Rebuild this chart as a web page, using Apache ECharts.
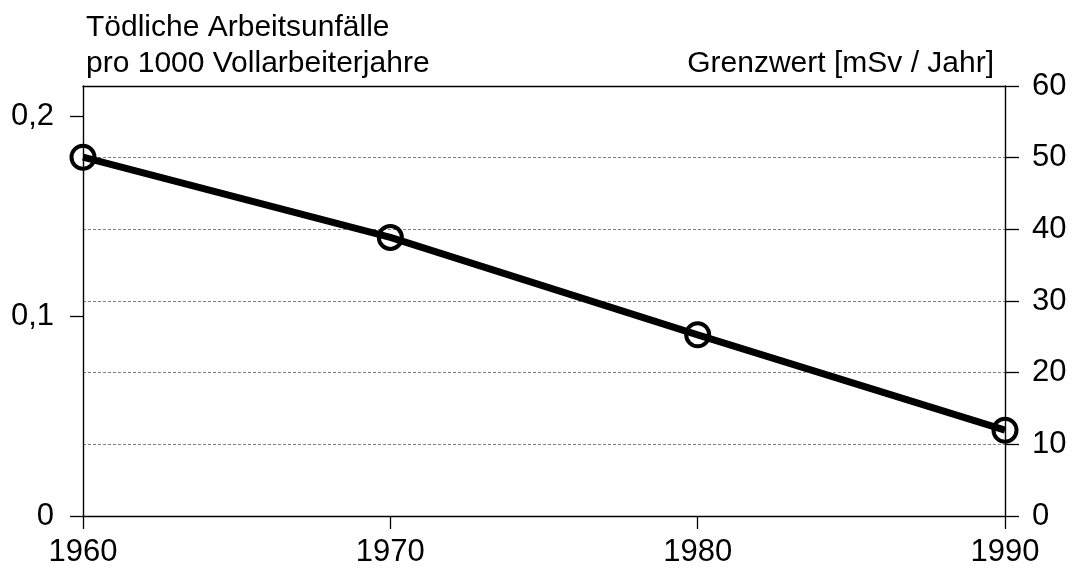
<!DOCTYPE html>
<html>
<head>
<meta charset="utf-8">
<script src="https://cdn.jsdelivr.net/npm/echarts@6/dist/echarts.min.js"></script>
<style>
  html, body { margin: 0; padding: 0; background: #fff; }
  #chart { width: 1074px; height: 568px; }
</style>
</head>
<body>
<div id="chart"></div>
<script>
// Jahre und Werte (linke Achse: tödliche Arbeitsunfälle pro 1000 Vollarbeiterjahre)
var years = [1960, 1970, 1980, 1990];
var unfaelle = [0.1794, 0.1393, 0.0906, 0.0429];
var leftTicks = [0, 0.1, 0.2];
var rightTicks = [0, 10, 20, 30, 40, 50, 60];

var font = "'Liberation Sans', Arial, sans-serif";

var points = years.map(function (y, i) { return [y, unfaelle[i]]; });

var chart = echarts.init(document.getElementById("chart"));
chart.setOption({
  animation: false,
  textStyle: { fontFamily: font },
  grid: { left: 83, right: 69, top: 86, bottom: 50 },
  xAxis: [
    {
      type: "value",
      min: 1960,
      max: 1990,
      interval: 10,
      z: 5,
      axisLine: { show: true, onZero: false, lineStyle: { color: "#000", width: 1.4 } },
      axisTick: { show: true, length: 13, lineStyle: { color: "#000", width: 1.3 } },
      axisLabel: {
        color: "#000", fontSize: 31, margin: 21, fontFamily: font,
        formatter: function (v) { return String(v); }
      },
      splitLine: { show: false }
    },
    {
      // obere Rahmenlinie
      type: "value",
      position: "top",
      min: 1960,
      max: 1990,
      z: 5,
      axisLine: { show: true, onZero: false, lineStyle: { color: "#000", width: 1.4 } },
      axisTick: { show: false },
      axisLabel: { show: false },
      splitLine: { show: false }
    }
  ],
  yAxis: [
    {
      type: "value",
      position: "left",
      min: 0,
      max: 0.215,
      z: 5,
      axisLine: { show: true, onZero: false, lineStyle: { color: "#000", width: 1.4 } },
      axisTick: { show: true, length: 13, customValues: leftTicks, lineStyle: { color: "#000", width: 1.3 } },
      axisLabel: {
        color: "#000", fontSize: 31, margin: 29, fontFamily: font,
        customValues: leftTicks,
        formatter: function (v) { return String(v).replace(".", ","); }
      },
      splitLine: { show: false }
    },
    {
      type: "value",
      position: "right",
      min: 0,
      max: 60,
      interval: 10,
      axisLine: { show: true, onZero: false, lineStyle: { color: "#000", width: 1.4 } },
      axisTick: { show: true, length: 14, lineStyle: { color: "#000", width: 1.3 } },
      axisLabel: {
        color: "#000", fontSize: 31, margin: 27, fontFamily: font,
        customValues: rightTicks
      },
      splitLine: { show: true, lineStyle: { color: "#808080", width: 1, type: [3, 2] } }
    }
  ],
  graphic: [
    {
      type: "text", left: 86, top: 10,
      style: {
        text: "Tödliche Arbeitsunfälle\npro 1000 Vollarbeiterjahre",
        font: "30px " + font, fill: "#000", lineHeight: 36
      }
    },
    {
      type: "text", right: 80, top: 46,
      style: {
        text: "Grenzwert [mSv / Jahr]",
        font: "30px " + font, fill: "#000", align: "right", lineHeight: 36
      }
    }
  ],
  series: [
    {
      type: "line",
      xAxisIndex: 0,
      yAxisIndex: 0,
      data: points,
      z: 10,
      symbol: "circle",
      symbolSize: 23,
      lineStyle: { color: "#000", width: 7 },
      itemStyle: { color: "rgba(0,0,0,0)", borderColor: "#000", borderWidth: 4 }
    }
  ]
});
</script>
</body>
</html>
